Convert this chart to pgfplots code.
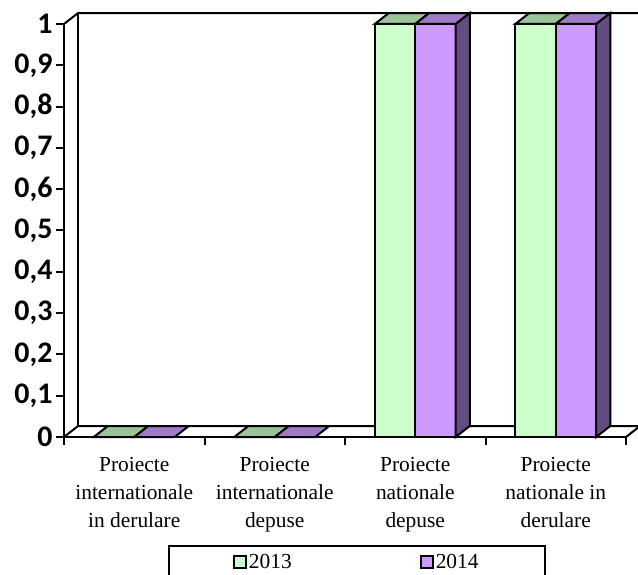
\documentclass[border=0pt]{standalone}
\usepackage{pgfplots}
\pgfplotsset{compat=1.18}
\usepackage{fontspec}
\setmainfont{Liberation Serif}
\newfontfamily\carlito{Carlito}
\definecolor{gfront}{RGB}{204,255,204}
\definecolor{gtop}{RGB}{153,196,153}
\definecolor{pfront}{RGB}{204,153,255}
\definecolor{ptop}{RGB}{160,122,200}
\definecolor{pside}{RGB}{98,76,128}
\begin{document}
\begin{tikzpicture}
\begin{axis}[name=ax, scale only axis, width=562bp, height=413bp,
  xmin=0, xmax=4, ymin=0, ymax=1, clip=false,
  axis x line*=bottom, axis y line*=left,
  axis line style={line width=2bp, black},
  xtick={0,1,2,3,4}, x tick label as interval,
  xticklabels={{Proiecte\\internationale\\in derulare},{Proiecte\\internationale\\depuse},{Proiecte\\nationale\\depuse},{Proiecte\\nationale in\\derulare}},
  xticklabel style={align=center, font=\fontsize{21.5}{28}\selectfont, yshift=-9bp},
  ytick={0,0.1,0.2,0.3,0.4,0.5,0.6,0.7,0.8,0.9,1},
  yticklabel style={font=\carlito\bfseries\fontsize{30}{30}\selectfont, /pgf/number format/.cd, use comma, fixed, precision=1, assume math mode=true},
  tick align=outside, major tick length=8bp, tick style={line width=2bp, black},
  legend columns=2,
  legend style={at={(0.185,-0.2615)}, anchor=north west, draw=black, line width=2bp,
    font=\fontsize{21.5}{24}\selectfont, inner xsep=64bp, inner ysep=6bp,
    /tikz/every even column/.append style={column sep=126bp}},
]
% walls
\addplot[black, line width=2bp, forget plot] coordinates {(0,1) (0.1,1.0266) (4.2,1.0266)};
\addplot[black, line width=2bp, forget plot] coordinates {(0.1,1.0266) (0.1,0.0266)};
\addplot[black, line width=2bp, forget plot] coordinates {(0,0) (0.1,0.0266) (4.2,0.0266)};
\addplot[black, line width=2bp, forget plot] coordinates {(4,0) (4.1,0.0266)};
% 2013 fronts
\addplot[ybar, bar width=0.288, bar shift=-0.144, fill=gfront, draw=black, line width=2bp,
  legend image code/.code={\draw[fill=gfront, draw=black, line width=2bp] (0bp,-6bp) rectangle (12bp,6bp);}]
  coordinates {(0.5,0) (1.5,0) (2.5,1) (3.5,1)};
\addlegendentry{2013}
% 2013 tops
\addplot[fill=gtop, draw=black, line width=2bp, forget plot] coordinates {(0.212,0) (0.5,0) (0.6,0.0266) (0.312,0.0266)} --cycle;
\addplot[fill=gtop, draw=black, line width=2bp, forget plot] coordinates {(1.212,0) (1.5,0) (1.6,0.0266) (1.312,0.0266)} --cycle;
\addplot[fill=gtop, draw=black, line width=2bp, forget plot] coordinates {(2.212,1) (2.5,1) (2.6,1.0266) (2.312,1.0266)} --cycle;
\addplot[fill=gtop, draw=black, line width=2bp, forget plot] coordinates {(3.212,1) (3.5,1) (3.6,1.0266) (3.312,1.0266)} --cycle;
% 2014 fronts
\addplot[ybar, bar width=0.288, bar shift=0.144, fill=pfront, draw=black, line width=2bp,
  legend image code/.code={\draw[fill=pfront, draw=black, line width=2bp] (0bp,-6bp) rectangle (12bp,6bp);}]
  coordinates {(0.5,0) (1.5,0) (2.5,1) (3.5,1)};
\addlegendentry{2014}
% 2014 tops
\addplot[fill=ptop, draw=black, line width=2bp, forget plot] coordinates {(0.5,0) (0.788,0) (0.888,0.0266) (0.6,0.0266)} --cycle;
\addplot[fill=ptop, draw=black, line width=2bp, forget plot] coordinates {(1.5,0) (1.788,0) (1.888,0.0266) (1.6,0.0266)} --cycle;
\addplot[fill=ptop, draw=black, line width=2bp, forget plot] coordinates {(2.5,1) (2.788,1) (2.888,1.0266) (2.6,1.0266)} --cycle;
\addplot[fill=ptop, draw=black, line width=2bp, forget plot] coordinates {(3.5,1) (3.788,1) (3.888,1.0266) (3.6,1.0266)} --cycle;
% 2014 sides
\addplot[fill=pside, draw=black, line width=2bp, forget plot] coordinates {(2.788,0) (2.888,0.0266) (2.888,1.0266) (2.788,1)} --cycle;
\addplot[fill=pside, draw=black, line width=2bp, forget plot] coordinates {(3.788,0) (3.888,0.0266) (3.888,1.0266) (3.788,1)} --cycle;
\end{axis}
\pgfresetboundingbox
\useasboundingbox (ax.south west) ++(-64bp,-138bp) rectangle ++(638bp,575bp);
\end{tikzpicture}
\end{document}
